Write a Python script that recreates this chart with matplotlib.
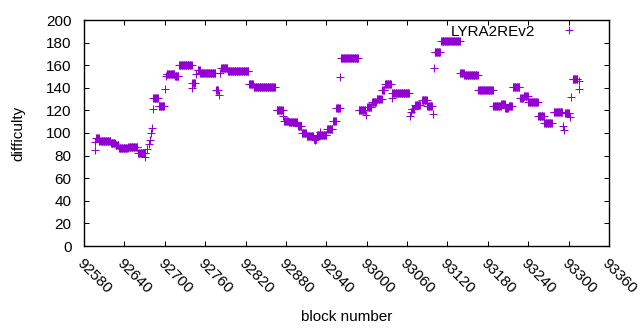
import numpy as np
import matplotlib
matplotlib.use("Agg")
import matplotlib.pyplot as plt

plt.rcParams['font.family'] = ['Liberation Sans', 'DejaVu Sans']

# Flat runs of difficulty (first block, last block, value)
run_start = [92598, 92603, 92620, 92627, 92632, 92646, 92660, 92683, 92691,
             92703, 92715, 92721, 92741, 92749, 92753, 92776, 92784, 92794,
             92825, 92832, 92866, 92877, 92884, 92898, 92904, 92911, 92921,
             92926, 92941, 92950, 92955, 92962, 92988, 93001, 93008, 93015,
             93023, 93027, 93038, 93067, 93072, 93082, 93090, 93101, 93111,
             93139, 93145, 93166, 93188, 93200, 93206, 93211, 93217, 93228,
             93233, 93240, 93255, 93264, 93278, 93295, 93306]
run_end = [92602, 92619, 92626, 92631, 92645, 92659, 92671, 92690, 92699,
           92714, 92720, 92740, 92745, 92752, 92775, 92779, 92793, 92824,
           92831, 92864, 92875, 92883, 92897, 92903, 92910, 92920, 92925,
           92940, 92949, 92954, 92960, 92987, 92998, 93007, 93014, 93022,
           93026, 93036, 93063, 93071, 93079, 93089, 93097, 93109, 93138,
           93144, 93165, 93187, 93199, 93205, 93210, 93216, 93227, 93232,
           93239, 93254, 93263, 93275, 93290, 93301, 93313]
run_value = [95.5, 93, 91, 89, 86.5, 88, 82, 131, 124,
             152, 150, 160, 144, 156, 153, 138, 157.5, 154.5,
             143, 141, 120, 111, 110, 106, 100, 97, 95,
             98, 103.5, 111, 122, 166, 120, 123, 127.5, 130,
             138, 143, 135, 121, 125, 129.5, 124, 172, 181,
             153.5, 151.5, 138, 124, 126, 122, 124, 141, 131,
             133, 127.5, 115, 109, 118.5, 118, 147.5]

# Isolated blocks
single_block = [92596, 92597, 92670, 92673, 92676, 92678, 92680, 92681, 92682,
                92700, 92702, 92740, 92747, 92781, 92782, 92876, 92923, 92930,
                92961, 92999, 93037, 93064, 93066, 93098, 93100, 93291, 93293,
                93302, 93304, 93315, 93315]
single_value = [85, 92, 79, 86, 90, 94, 100, 104, 121,
                139, 150, 140, 152, 134, 153, 115, 93.5, 101,
                149.6, 116, 131, 115, 119, 116.5, 157.5, 106, 103,
                114, 132, 146, 139]

xticks = list(range(92580, 93361, 60))
yticks = list(range(0, 201, 20))

blocks = []
values = []
for s, e, v in zip(run_start, run_end, run_value):
    b = np.arange(s, e + 1)
    blocks.append(b)
    values.append(np.full(len(b), v))
blocks.append(np.array(single_block))
values.append(np.array(single_value))
blocks = np.concatenate(blocks)
values = np.concatenate(values)
order = np.argsort(blocks, kind='stable')
blocks = blocks[order]
values = values[order]

fig = plt.figure(figsize=(6.4, 3.3), dpi=100)
ax = fig.add_axes([84/640, 1 - 246/330, (609 - 84)/640, (246 - 20)/330])

color = '#9400d3'
ax.plot(blocks, values, linestyle='none', marker='+', markersize=5.2,
        markeredgewidth=0.75, color=color, label='LYRA2REv2')

ax.set_xlim(92580, 93360)
ax.set_ylim(0, 200)
ax.set_xticks(xticks)
ax.set_yticks(yticks)
ax.set_xticklabels([str(t) for t in xticks], rotation=-45, ha='left', va='top',
                   rotation_mode='anchor')
ax.tick_params(axis='both', direction='in', length=3.5, width=0.75,
               top=True, right=True, labelsize=11, colors='black')
ax.tick_params(axis='y', pad=9)
ax.tick_params(axis='x', pad=7)
for sp in ax.spines.values():
    sp.set_linewidth(1.0)
    sp.set_color('black')

ax.set_xlabel('block number', fontsize=11)
ax.set_ylabel('difficulty', fontsize=11, labelpad=15)
ax.xaxis.set_label_coords(0.5, -0.285)

leg = ax.legend(loc='upper right', bbox_to_anchor=(0.958, 0.98), frameon=False,
                markerfirst=False, handlelength=2.4, handletextpad=1.0,
                borderpad=0, borderaxespad=0, fontsize=11)

fig.savefig('out.png', dpi=100)
